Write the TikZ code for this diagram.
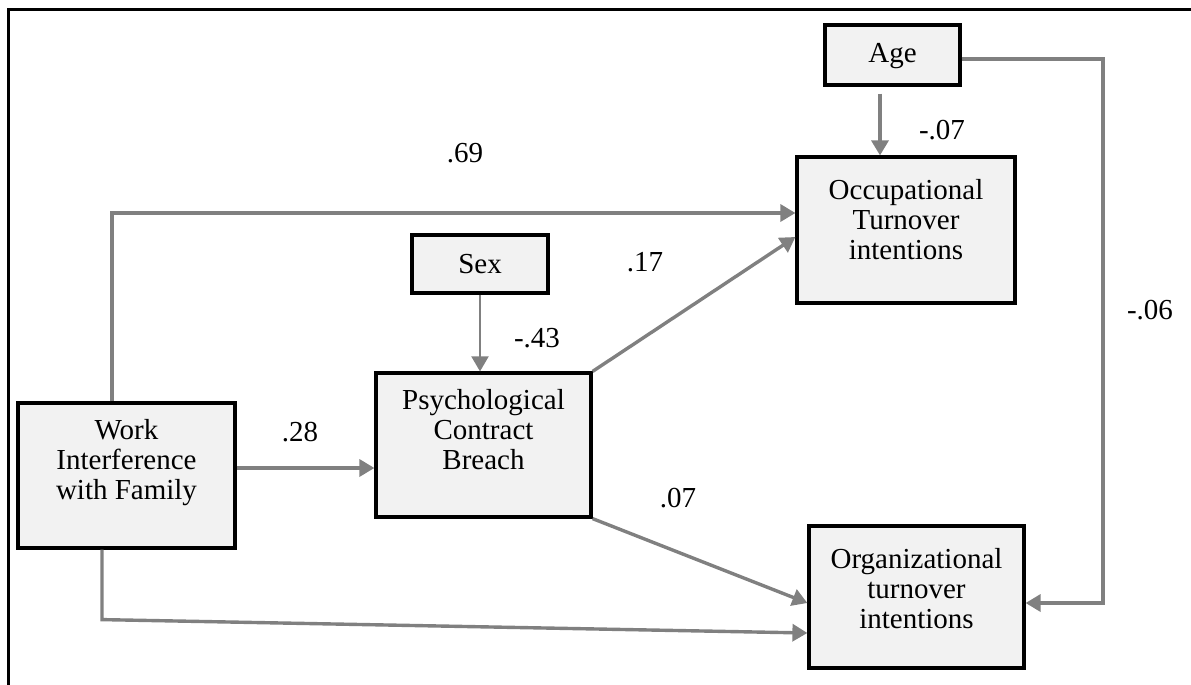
\documentclass[tikz,border=0pt]{standalone}
\usepackage{fontspec}
\setmainfont{Liberation Serif}
\usetikzlibrary{arrows.meta}
\definecolor{linegray}{RGB}{128,128,128}
\definecolor{boxfill}{RGB}{242,242,242}
\begin{document}
\begin{tikzpicture}[x=1pt,y=1pt,
  box/.style={rectangle,draw=black,line width=3.2pt,fill=boxfill,inner sep=0pt},
  boxtext/.style={align=center,font=\fontsize{29}{30}\selectfont,inner sep=0pt},
  coef/.style={font=\fontsize{29}{30}\selectfont,inner sep=0pt},
  arr/.style={draw=linegray,line width=3.4pt,-{Triangle[length=15pt,width=17pt]}}]
\useasboundingbox (0,0) rectangle (1191,-685);
\draw[line width=3pt] (8,-685) -- (8,-10) -- (1191,-10);
% boxes
\node[box,minimum width=135,minimum height=60] (age) at (892.5,-55) {};
\node[box,minimum width=218,minimum height=146] (occ) at (906,-230) {};
\node[box,minimum width=136,minimum height=58] (sex) at (480,-264) {};
\node[box,minimum width=215,minimum height=144] (pcb) at (483.5,-445) {};
\node[box,minimum width=217,minimum height=145] (work) at (126.5,-475.5) {};
\node[box,minimum width=215,minimum height=142] (org) at (916.5,-597) {};
\node[boxtext] (age-t) at (892.5,-56) {Age};
\node[boxtext] (occ-t) at (906,-220) {Occupational\\Turnover\\intentions};
\node[boxtext] (sex-t) at (480,-264) {Sex};
\node[boxtext] (pcb-t) at (483.5,-430) {Psychological\\Contract\\Breach};
\node[boxtext] (work-t) at (126.5,-463) {Work\\Interference\\with Family};
\node[boxtext] (org-t) at (916.5,-589) {Organizational\\turnover\\intentions};
% paths
\coordinate (agecorner) at (1103,-603);
\draw[arr] ([shift={(-12.5,-7)}]age.south) -- ([xshift=-12.5]age.south |- occ.north);
\draw[arr] ([yshift=-4]age.east) -| (agecorner) -- (agecorner -| org.east);
\draw[arr] ([xshift=-14.5]work.north) |- ([yshift=17]occ.west);
\draw[arr] ([xshift=-24.5]work.south) -- ++(0,-70) -- ([yshift=-36]org.west);
\draw[arr] ([yshift=7.5]work.east) -- ([yshift=7.5]work.east -| pcb.west);
\draw[arr,line width=2pt] (sex.south) -- (sex.south |- pcb.north);
\draw[arr] (pcb.north east) -- ([yshift=-7]occ.west);
\draw[arr] (pcb.south east) -- ([yshift=-6]org.west);
% coefficients
\node[coef] (c69) at (465,-153) {.69};
\node[coef] (c07a) at (942,-130) {-.07};
\node[coef] (c17) at (645,-262) {.17};
\node[coef] (c43) at (537,-338) {-.43};
\node[coef] (c28) at (300,-432) {.28};
\node[coef] (c07b) at (678,-498) {.07};
\node[coef] (c06) at (1150,-310) {-.06};
\end{tikzpicture}
\end{document}
